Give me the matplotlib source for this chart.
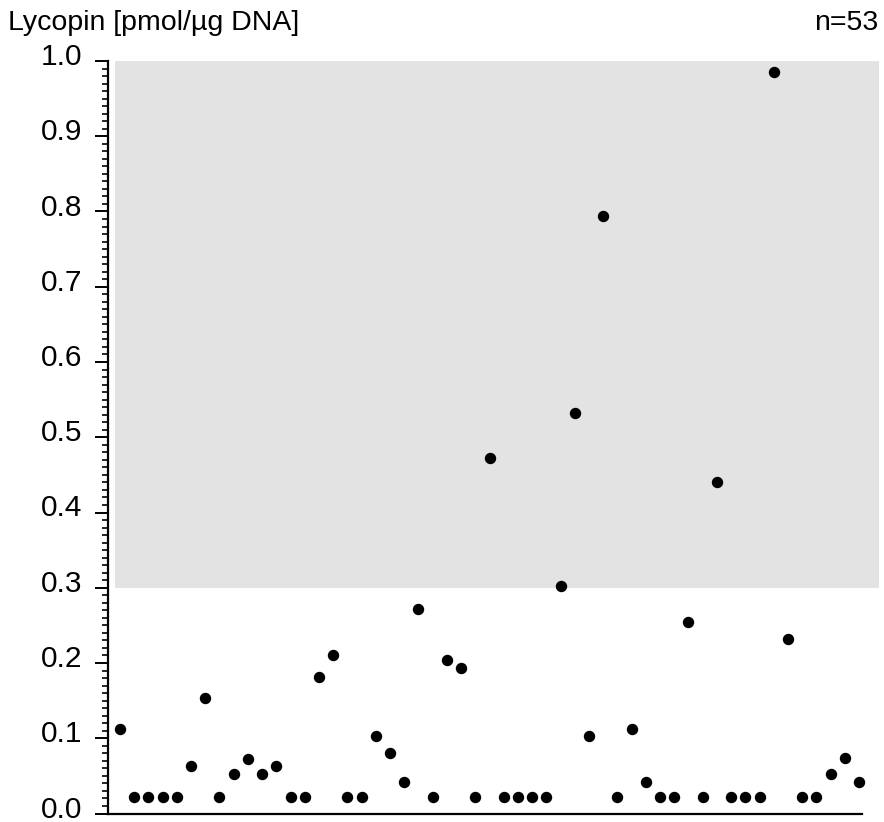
import numpy as np
import matplotlib
matplotlib.use("Agg")
import matplotlib.pyplot as plt
from matplotlib.ticker import MultipleLocator
from matplotlib.transforms import ScaledTranslation

plt.rcParams['font.family'] = ['Liberation Sans', 'DejaVu Sans']

# lycopin per sample, in sample order
lycopin = [0.112, 0.022, 0.022, 0.022, 0.022, 0.063, 0.153, 0.022, 0.052, 0.073,
           0.052, 0.063, 0.022, 0.022, 0.181, 0.211, 0.022, 0.022, 0.103, 0.081,
           0.042, 0.272, 0.022, 0.204, 0.193, 0.022, 0.473, 0.022, 0.022, 0.022,
           0.022, 0.302, 0.532, 0.103, 0.794, 0.022, 0.112, 0.042, 0.022, 0.022,
           0.254, 0.022, 0.441, 0.022, 0.022, 0.022, 0.986, 0.232, 0.022, 0.022,
           0.052, 0.074, 0.042]
threshold = 0.3
y_max = 1.0
y_ticks = np.arange(0, 1.01, 0.1)

W, H = 884, 822
fig = plt.figure(figsize=(W / 100, H / 100), dpi=100)
left_px, right_px, top_px, bottom_px = 108, 879, 61, 813.5
ax = fig.add_axes([left_px / W, (H - bottom_px) / H,
                   (right_px - left_px) / W, (bottom_px - top_px) / H])

idx = np.arange(len(lycopin))
step = (859 - 120) / (len(lycopin) - 1)
x_lo = -(120 - left_px) / step
x_hi = (len(lycopin) - 1) + (right_px - 859) / step
ax.set_xlim(x_lo, x_hi)
ax.set_ylim(0, y_max)

# shaded band above the threshold
ax.fill_between([-(120 - 115) / step, x_hi], threshold, y_max,
                color='#e3e3e3', lw=0, zorder=0)

ax.plot(idx, lycopin, 'o', color='black', ms=7.2, zorder=3, clip_on=False)

for s in ['top', 'right']:
    ax.spines[s].set_visible(False)
ax.spines['left'].set_linewidth(1.6)
ax.spines['bottom'].set_linewidth(1.6)
ax.spines['bottom'].set_bounds(x_lo, (len(lycopin) - 1) + 3 / step)

ax.set_xticks([])
ax.yaxis.set_minor_locator(MultipleLocator(0.01))
ax.set_yticks(y_ticks)
ax.set_yticklabels([f"{v:.1f}" for v in y_ticks])
ax.tick_params(axis='y', which='major', length=9.5, width=1.4, pad=9,
               labelsize=21.5, colors='black')
ax.tick_params(axis='y', which='minor', length=4.5, width=1.2)

# labels sit a little above their ticks
lift = ScaledTranslation(0, 7 / 100, fig.dpi_scale_trans)
for lab in ax.get_yticklabels():
    lab.set_transform(lab.get_transform() + lift)

fig.text(8 / W, 1 - 30 / H, "Lycopin [pmol/µg DNA]", fontsize=20.5,
         ha='left', va='baseline')
fig.text(878 / W, 1 - 30 / H, f"n={len(lycopin)}", fontsize=20.5,
         ha='right', va='baseline')

fig.savefig("out.png", dpi=100)
